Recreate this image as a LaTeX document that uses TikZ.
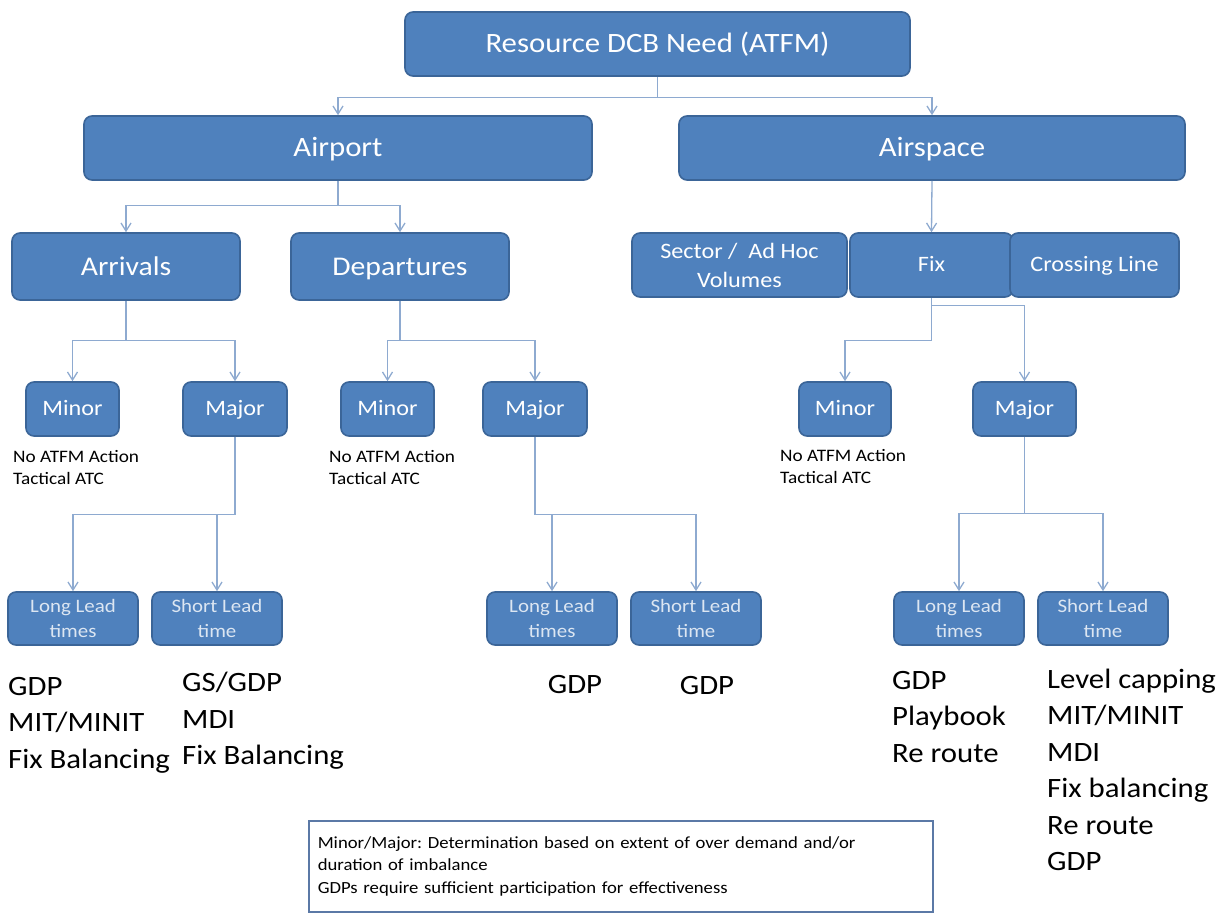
\documentclass[tikz,border=0pt]{standalone}
\usepackage{fontspec}
\setmainfont[FakeStretch=1.1]{Carlito}
\usepackage{xcolor}
\usepackage{tikz}
\usetikzlibrary{arrows.meta}
\definecolor{boxfill}{HTML}{4F81BD}
\definecolor{boxline}{HTML}{3B6598}
\definecolor{linkc}{HTML}{8EAAD0}
\definecolor{paletxt}{HTML}{DCE6F2}
\definecolor{notec}{HTML}{5B79A6}
\frenchspacing

\begin{document}
\begin{tikzpicture}[x=1pt,y=-1pt,
    blk/.style={draw=boxline, fill=boxfill, line width=1.6pt, rounded corners=8pt,
      text=white, inner sep=0pt, align=center, minimum height=#1},
    blk/.default=64pt,
    onel/.style={font=\fontsize{#1}{#1}\selectfont, text height=0.82*#1pt, text depth=0.19*#1pt},
    link/.style={draw=linkc, line width=1.3pt, -{Straight Barb[length=8pt,width=10pt]}},
    note/.style={align=left, inner sep=0pt, anchor=west, font=\fontsize{17.5}{22}\selectfont},
    list/.style={align=left, inner sep=0pt, anchor=west, font=\fontsize{28}{36.5}\selectfont}]
    \useasboundingbox (0,0) rectangle (1229,913);

    \node [blk, onel=28, minimum width=505pt] (root) at (657.5,44) {Resource DCB Need (ATFM)};
    \node [blk, onel=28, minimum width=508pt] (airport) at (338,148) {Airport};
    \node [blk, onel=28, minimum width=506pt] (airspace) at (932,148) {Airspace};

    \node [blk=67pt, onel=27, minimum width=228pt] (arrivals) at (126,266.5) {Arrivals};
    \node [blk=67pt, onel=27, minimum width=218pt] (departures) at (400,266.5) {Departures};
    \node [blk, minimum width=215pt, font=\fontsize{22}{29}\selectfont] (sector) at (739.5,265) {Sector /\ \ Ad Hoc\\Volumes};
    \node [blk, onel=22, minimum width=163pt] (fix) at (931.5,265) {Fix};
    \node [blk, onel=22, minimum width=169pt] (crossing) at (1094.5,265) {Crossing Line};

    \node [blk=54pt, onel=22, minimum width=93pt] (arrminor) at (72.5,409) {Minor};
    \node [blk=54pt, onel=22, minimum width=104pt] (arrmajor) at (235,409) {Major};
    \node [blk=54pt, onel=22, minimum width=93pt] (depminor) at (387.5,409) {Minor};
    \node [blk=54pt, onel=22, minimum width=104pt] (depmajor) at (535,409) {Major};
    \node [blk=54pt, onel=22, minimum width=92pt] (spminor) at (845,409) {Minor};
    \node [blk=54pt, onel=22, minimum width=103pt] (spmajor) at (1024.5,409) {Major};

    \foreach \nm/\px/\txt in {arrlong/73/Long Lead\\times, arrshort/217/Short Lead\\time,
        deplong/552/Long Lead\\times, depshort/696/Short Lead\\time,
        splong/959/Long Lead\\times, spshort/1103/Short Lead\\time}
      \node [blk=53pt, minimum width=130pt, text=paletxt, font=\fontsize{19}{25}\selectfont] (\nm) at (\px,618.5) {\txt};

    \draw [link] (root.south) -- ++(0,21) -| (airport.north);
    \draw [link] (root.south) -- ++(0,21) -| (airspace.north);
    \draw [link] (airport.south) -- ++(0,25) -| (arrivals.north);
    \draw [link] (airport.south) -- ++(0,25) -| (departures.north);
    \draw [link] (airspace.south) -- (fix.north);
    \draw [link] (arrivals.south) -- ++(0,40) -| (arrminor.north);
    \draw [link] (arrivals.south) -- ++(0,40) -| (arrmajor.north);
    \draw [link] (departures.south) -- ++(0,40) -| (depminor.north);
    \draw [link] (departures.south) -- ++(0,40) -| (depmajor.north);
    \draw [link] (fix.south) -- ++(0,43) -| (spminor.north);
    \draw [link] (fix.south) -- ++(0,8) -| (spmajor.north);
    \draw [link] (arrmajor.south) -- ++(0,78) -| (arrlong.north);
    \draw [link] (arrmajor.south) -- ++(0,78) -| (arrshort.north);
    \draw [link] (depmajor.south) -- ++(0,78) -| (deplong.north);
    \draw [link] (depmajor.south) -- ++(0,78) -| (depshort.north);
    \draw [link] (spmajor.south) -- ++(0,77) -| (splong.north);
    \draw [link] (spmajor.south) -- ++(0,77) -| (spshort.north);

    \node [note] (arrnote) at (13,468) {No ATFM Action\\Tactical ATC};
    \node [note] (depnote) at (329,468) {No ATFM Action\\Tactical ATC};
    \node [note] (spnote) at (780,467) {No ATFM Action\\Tactical ATC};

    \node [list] (arrlonglist) at (8,725) {GDP\\MIT/MINIT\\Fix Balancing};
    \node [list] (arrshortlist) at (182,721) {GS/GDP\\MDI\\Fix Balancing};
    \node [list, anchor=center] (deplonglist) at (575,685) {GDP};
    \node [list, anchor=center] (depshortlist) at (707,686) {GDP};
    \node [list] (splonglist) at (892,717) {GDP\\Playbook\\Re route};
    \node [list] (spshortlist) at (1047,770) {Level capping\\MIT/MINIT\\MDI\\Fix balancing\\Re route\\GDP};

    \node [draw=notec, line width=1.5pt, fill=white, anchor=north west, minimum width=624pt,
      minimum height=91pt, text width=606pt, inner xsep=9pt, align=left,
      font=\fontsize{17}{22.5}\selectfont] (legend) at (308,820)
      {Minor/Major: Determination based on extent of over demand and/or\\duration of imbalance\\GDPs require sufficient participation for effectiveness};
\end{tikzpicture}
\end{document}
